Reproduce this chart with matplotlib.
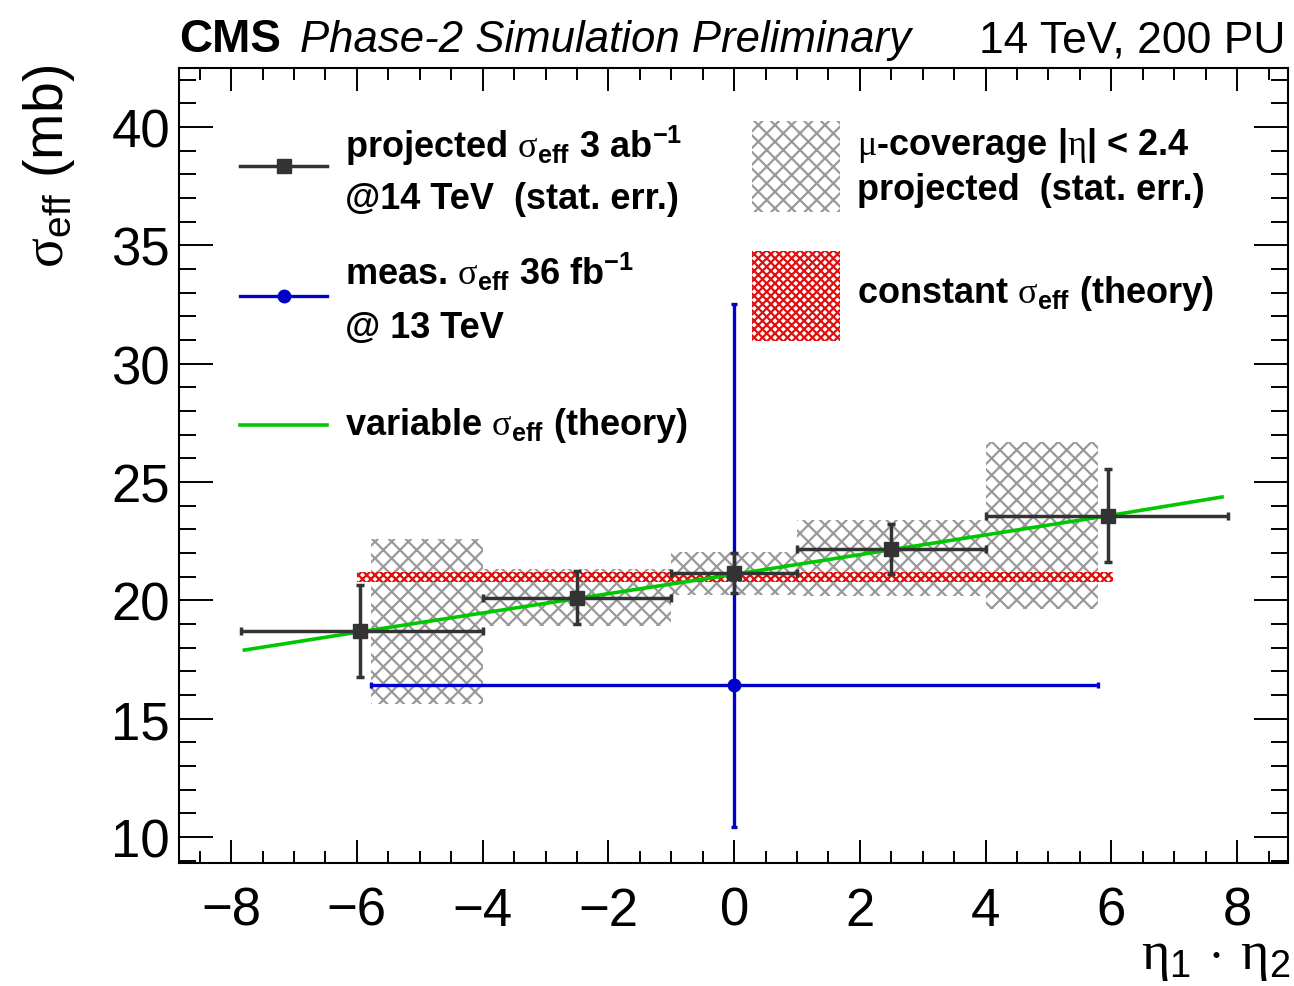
import numpy as np
import matplotlib.pyplot as plt
from matplotlib.patches import Rectangle
from matplotlib.ticker import MultipleLocator

plt.rcParams['font.family'] = 'Liberation Sans'
plt.rcParams['mathtext.fontset'] = 'custom'
plt.rcParams['mathtext.rm'] = 'Liberation Serif'
plt.rcParams['mathtext.sf'] = 'Liberation Sans'
plt.rcParams['mathtext.bf'] = 'Liberation Sans:bold'
plt.rcParams['mathtext.it'] = 'Liberation Sans:italic'
plt.rcParams['hatch.linewidth'] = 1.6

# projected sigma_eff, 3 ab^-1 at 14 TeV (stat. err.)
proj_x = [-5.95, -2.5, 0.0, 2.5, 5.95]
proj_y = [18.7, 20.12, 21.15, 22.17, 23.58]
proj_xlo = [-7.85, -4.0, -1.0, 1.0, 4.0]
proj_xhi = [-4.0, -1.0, 1.0, 4.0, 7.85]
proj_yerr = [1.95, 1.12, 0.85, 1.05, 1.96]

# muon coverage |eta| < 2.4, projected
mu_xlo = [-5.77, -4.0, -1.0, 1.0, 4.0]
mu_xhi = [-4.0, -1.0, 1.0, 4.0, 5.79]
mu_ylo = [15.62, 18.92, 20.22, 20.2, 19.63]
mu_yhi = [22.6, 21.32, 22.04, 23.39, 26.69]

# measured sigma_eff, 36 fb^-1 at 13 TeV
meas_x = [0.0]
meas_y = [16.42]
meas_xlo = [-5.77]
meas_xhi = [5.79]
meas_ylo = [10.42]
meas_yhi = [32.52]

# theory curves
var_x = [-7.79, -6.0, 0.0, 6.0, 7.76]
var_y = [17.9, 18.65, 21.1, 23.6, 24.37]
const_sigma = 20.98
const_err = 0.22
const_x = [-6.0, 6.03]

dark = '#333333'
blue = '#0000c8'
green = '#00c800'
grey = '#999999'
red = '#e01010'

fig = plt.figure(figsize=(12.94, 9.87), dpi=100)
ax = fig.add_axes([0.1383, 0.1246, 0.8571, 0.8055])

mu_w = np.subtract(mu_xhi, mu_xlo)
mu_h = np.subtract(mu_yhi, mu_ylo)
ax.bar(mu_xlo, mu_h, width=mu_w, bottom=mu_ylo, align='edge',
       facecolor='none', edgecolor=grey, hatch='xx', linewidth=0, zorder=1)

ax.fill_between(const_x, const_sigma - const_err, const_sigma + const_err,
                facecolor='none', edgecolor=red, hatch='xxxx', linewidth=0, zorder=2)

mx = np.array(meas_x)
my = np.array(meas_y)
ax.errorbar(meas_x, meas_y,
            xerr=[mx - np.array(meas_xlo), np.array(meas_xhi) - mx],
            yerr=[my - np.array(meas_ylo), np.array(meas_yhi) - my],
            fmt='o', color=blue, ms=9, elinewidth=2.4, capsize=2, capthick=2.4, zorder=3)

ax.plot(var_x, var_y, color=green, lw=2.6, zorder=4)

px = np.array(proj_x)
ax.errorbar(proj_x, proj_y,
            xerr=[px - np.array(proj_xlo), np.array(proj_xhi) - px],
            yerr=proj_yerr,
            fmt='s', color=dark, ms=10, elinewidth=2.5, capsize=3, capthick=2.5, zorder=5)

ax.set_xlim(-8.83, 8.81)
ax.set_ylim(8.9, 42.5)
ax.xaxis.set_major_locator(MultipleLocator(2))
ax.xaxis.set_minor_locator(MultipleLocator(0.5))
ax.yaxis.set_major_locator(MultipleLocator(5))
ax.yaxis.set_minor_locator(MultipleLocator(1))
ax.tick_params(which='both', direction='in', top=True, right=True, width=1.4, labelsize=38)
ax.tick_params(axis='x', which='major', length=16.5, pad=16.5)
ax.tick_params(axis='x', which='minor', length=8.3)
ax.tick_params(axis='y', which='major', length=24.5, pad=6.5)
ax.tick_params(axis='y', which='minor', length=12)
for s in ax.spines.values():
    s.set_linewidth(1.5)

# legend, left column
tr = ax.transAxes
ax.plot([0.055, 0.1335], [0.8767, 0.8767], color=dark, lw=2.5, transform=tr)
ax.plot([0.0947], [0.8767], 's', color=dark, ms=10, transform=tr)
ax.plot([0.055, 0.1335], [0.7132, 0.7132], color=blue, lw=2.4, transform=tr)
ax.plot([0.0947], [0.7132], 'o', color=blue, ms=9, transform=tr)
ax.plot([0.055, 0.1335], [0.551, 0.551], color=green, lw=2.6, transform=tr)

lkw = dict(transform=tr, fontsize=26, fontweight='bold', ha='left', va='baseline')
sig = r'$\mathrm{\sigma}_{\mathbf{eff}}$'
ax.text(0.1497, 0.888, 'projected ' + sig + r' 3 ab$^{\mathbf{-1}}$', **lkw)
ax.text(0.1497, 0.8245, '@14 TeV  (stat. err.)', **lkw)
ax.text(0.1497, 0.7283, 'meas. ' + sig + r' 36 fb$^{\mathbf{-1}}$', **lkw)
ax.text(0.1497, 0.6616, '@ 13 TeV', **lkw)
ax.text(0.1497, 0.5396, 'variable ' + sig + ' (theory)', **lkw)

# legend, right column
ax.add_patch(Rectangle((0.5167, 0.8189), 0.0793, 0.1144, transform=tr,
                       facecolor='none', edgecolor=grey, hatch='xx', linewidth=0))
ax.add_patch(Rectangle((0.5167, 0.6566), 0.0793, 0.1132, transform=tr,
                       facecolor='none', edgecolor=red, hatch='xxxx', linewidth=0))
ax.text(0.6114, 0.8918, r'$\mathrm{\mu}$-coverage |$\mathrm{\eta}$| < 2.4', **lkw)
ax.text(0.6114, 0.8352, 'projected  (stat. err.)', **lkw)
ax.text(0.6114, 0.7057, 'constant ' + sig + ' (theory)', **lkw)

# header and axis titles
fig.text(0.1383, 0.9473, 'CMS', fontsize=33, fontweight='bold', ha='left', va='baseline')
fig.text(0.2318, 0.9473, 'Phase-2 Simulation Preliminary', fontsize=31.5, style='italic',
         ha='left', va='baseline')
fig.text(0.993, 0.9473, '14 TeV, 200 PU', fontsize=32, ha='right', va='baseline')

fig.text(0.038, 0.934, r'$\mathrm{\sigma}_{\mathsf{eff}}$ (mb)', fontsize=40, rotation=90,
         ha='center', va='top')
fig.text(0.997, 0.018, r'$\mathrm{\eta}_{\mathsf{1}}\,\cdot\,\mathrm{\eta}_{\mathsf{2}}$',
         fontsize=39, ha='right', va='baseline')

fig.savefig('out.png', dpi=100)
